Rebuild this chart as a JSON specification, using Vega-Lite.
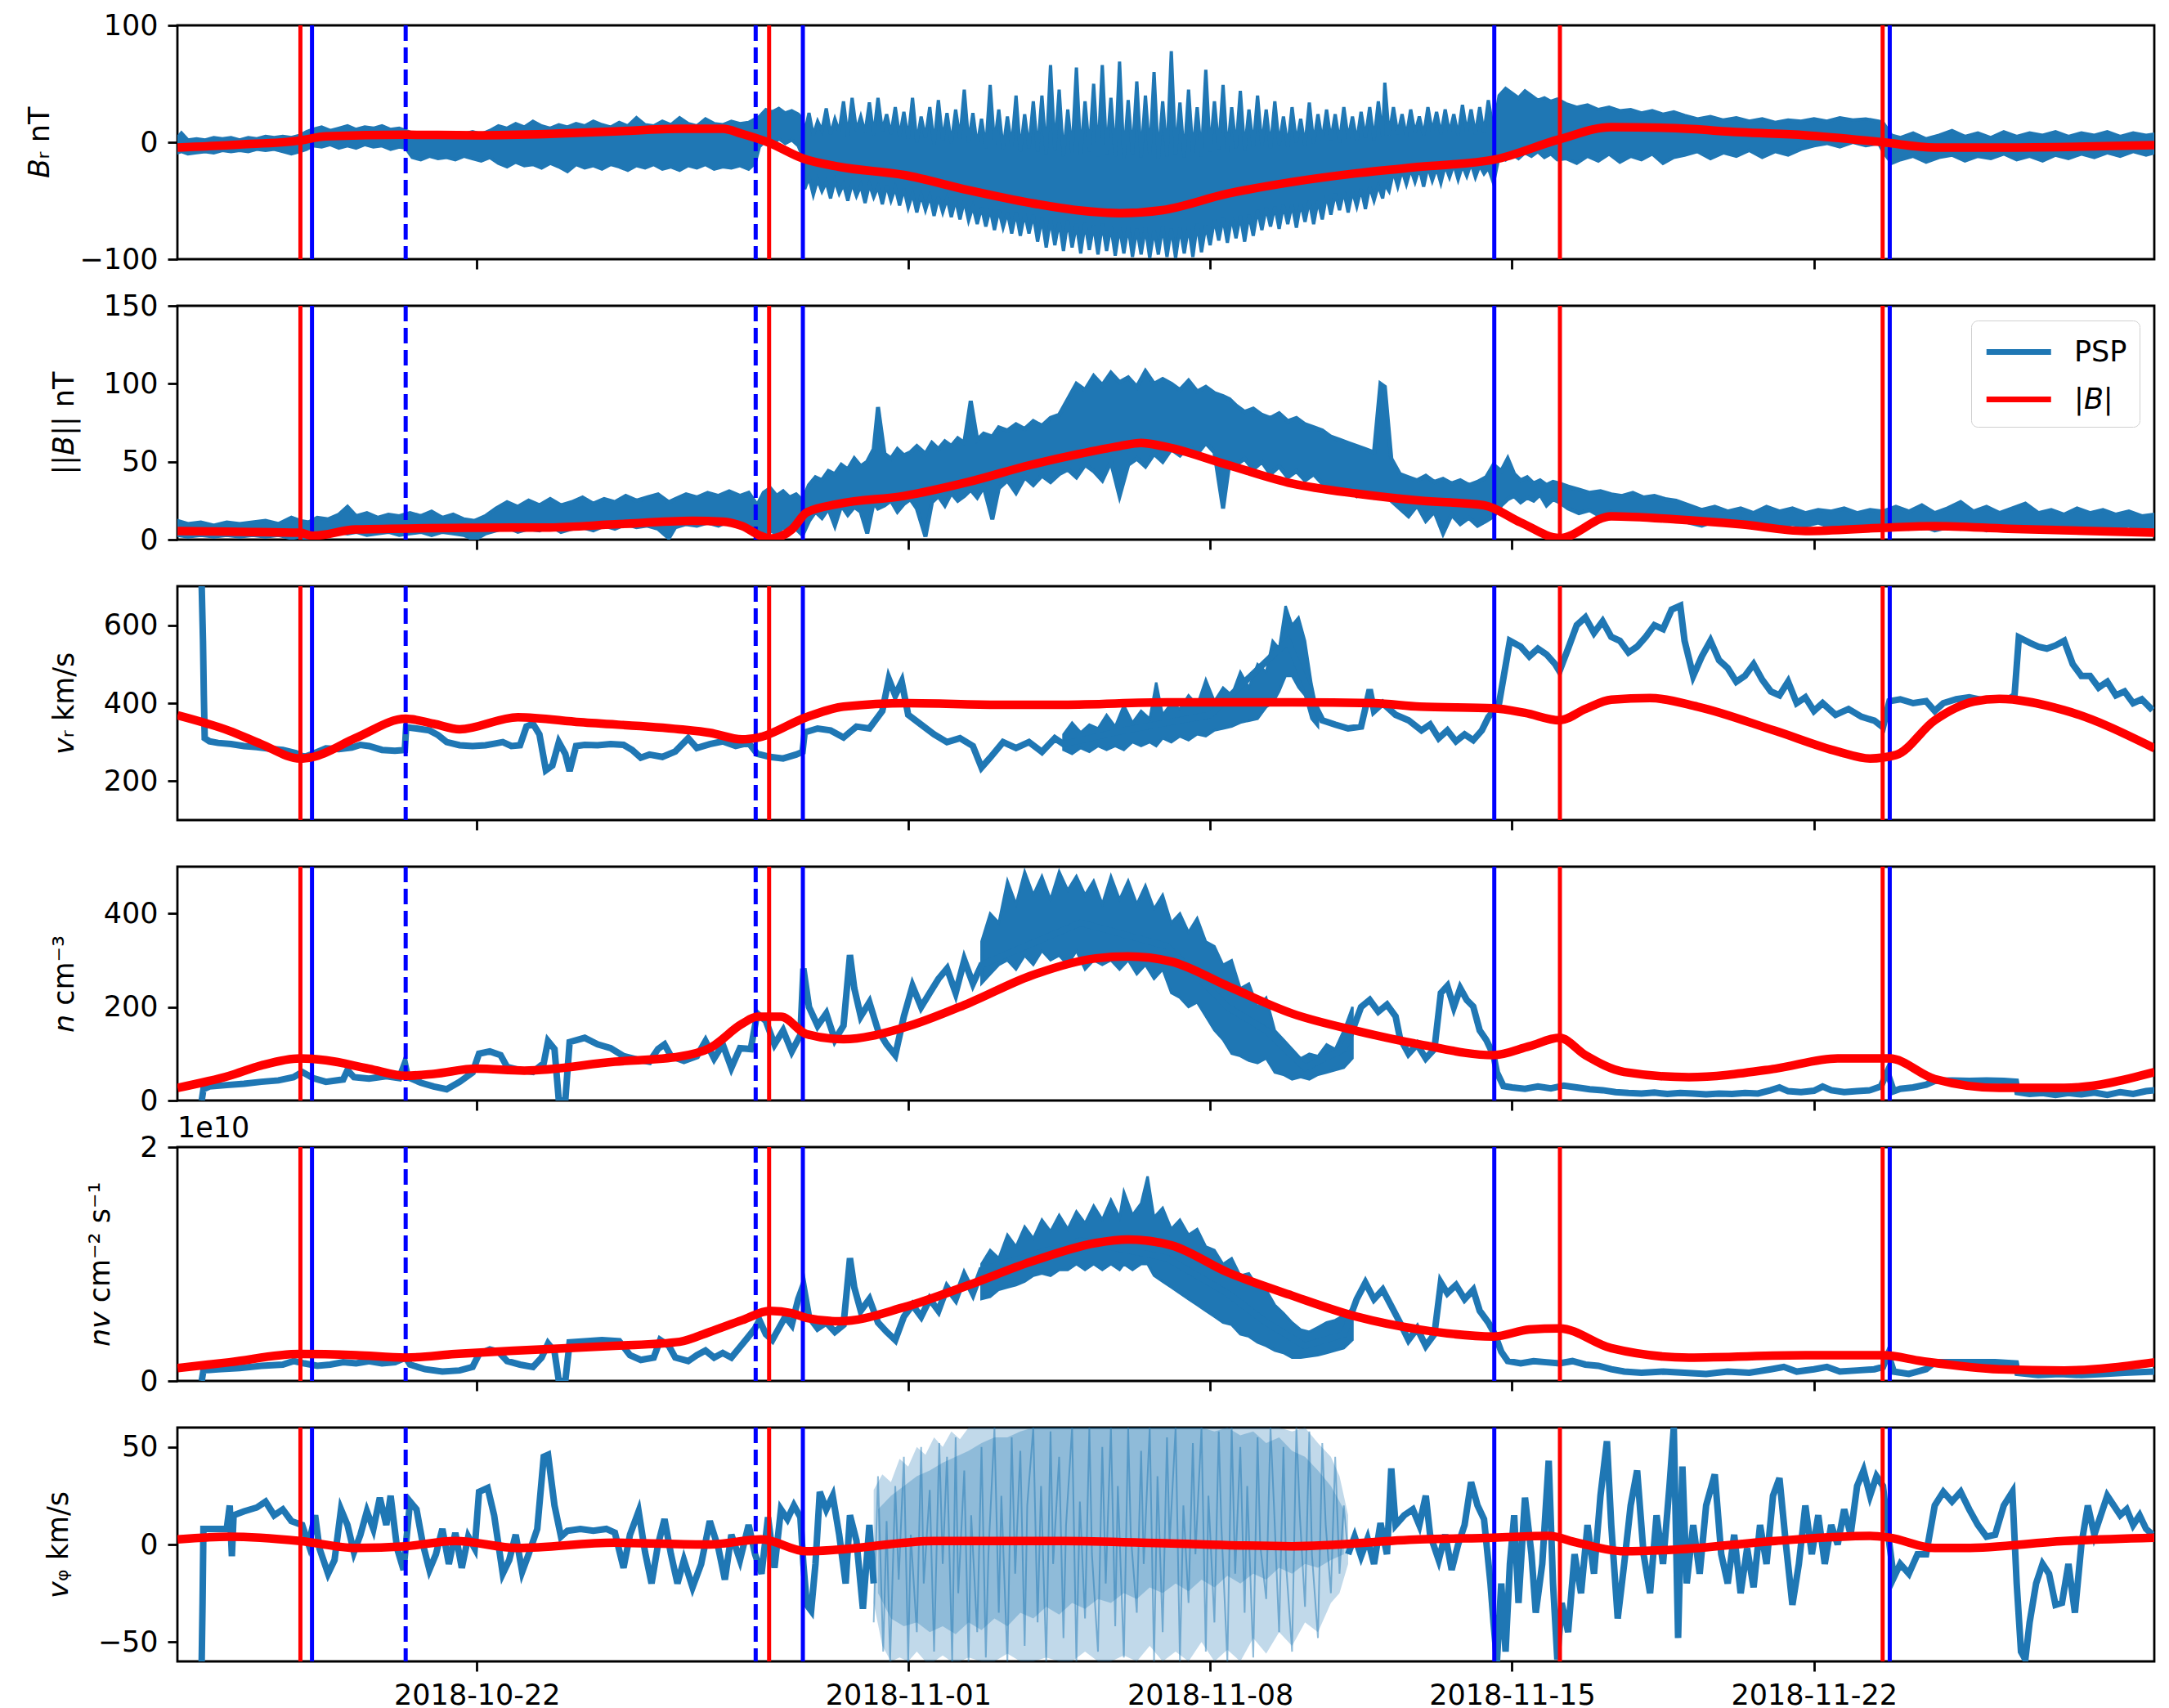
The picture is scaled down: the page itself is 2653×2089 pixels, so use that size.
{
  "$schema": "https://vega.github.io/schema/vega-lite/v6.json",
  "background": "white",
  "padding": {"left": 30, "top": 12, "right": 20, "bottom": 0},
  "bounds": "flush",
  "spacing": 57,
  "resolve": {"scale": {"stroke": "independent"}, "legend": {"stroke": "independent"}},
  "config": {
    "font": "DejaVu Sans",
    "view": {"stroke": "#000000", "strokeWidth": 2.8},
    "axis": {
      "labelFont": "DejaVu Sans", "labelFontSize": 35, "labelColor": "#000000", "labelLimit": 500,
      "titleFont": "DejaVu Sans", "titleFontSize": 35, "titleFontWeight": "normal", "titleColor": "#000000",
      "tickColor": "#000000", "tickWidth": 2.8, "tickSize": 12, "labelPadding": 12, "titlePadding": 30,
      "domain": false, "grid": false
    },
    "legend": {"labelFont": "DejaVu Sans", "labelFontSize": 35, "labelColor": "#000000"},
    "title": {"font": "DejaVu Sans", "fontSize": 35, "fontWeight": "normal", "color": "#000000"}
  },
  "datasets": {
    "red_times": [{"d": 2.909}, {"d": 13.775}, {"d": 32.11}, {"d": 39.592}],
    "blue_times": [{"d": 3.177}, {"d": 14.558}, {"d": 30.588}, {"d": 39.757}],
    "blue_dashed_times": [{"d": 5.349}, {"d": 13.464}],
    "br_psp": [
      {"d":0.06,"lo":-9,"hi":4},{"d":0.15,"lo":-8,"hi":8},{"d":0.3,"lo":-10,"hi":2},{"d":0.5,"lo":-9,"hi":3},{"d":0.7,"lo":-8,"hi":2},{"d":0.9,"lo":-9,"hi":4},{"d":1.1,"lo":-7,"hi":3},{"d":1.3,"lo":-8,"hi":4},{"d":1.5,"lo":-7,"hi":2},{"d":1.7,"lo":-8,"hi":4},{"d":1.9,"lo":-6,"hi":3},{"d":2.1,"lo":-7,"hi":5},{"d":2.3,"lo":-6,"hi":4},{"d":2.5,"lo":-8,"hi":5},{"d":2.7,"lo":-10,"hi":4},{"d":2.9,"lo":-8,"hi":6},
      {"d":3.05,"lo":-6,"hi":9},{"d":3.2,"lo":-3,"hi":11},{"d":3.4,"lo":-4,"hi":13},{"d":3.6,"lo":-2,"hi":10},{"d":3.8,"lo":-5,"hi":12},{"d":4.0,"lo":-3,"hi":14},{"d":4.2,"lo":-5,"hi":11},{"d":4.4,"lo":-2,"hi":13},{"d":4.6,"lo":-4,"hi":12},{"d":4.8,"lo":-3,"hi":14},{"d":5.0,"lo":-6,"hi":11},{"d":5.2,"lo":-4,"hi":12},{"d":5.35,"lo":-5,"hi":10},
      {"d":5.5,"lo":-13,"hi":8},{"d":5.7,"lo":-15,"hi":6},{"d":5.9,"lo":-12,"hi":7},{"d":6.1,"lo":-14,"hi":5},{"d":6.3,"lo":-13,"hi":8},{"d":6.5,"lo":-15,"hi":6},{"d":6.7,"lo":-12,"hi":7},{"d":6.9,"lo":-14,"hi":9},{"d":7.1,"lo":-16,"hi":7},{"d":7.3,"lo":-13,"hi":10},
      {"d":7.5,"lo":-18,"hi":14},{"d":7.7,"lo":-21,"hi":12},{"d":7.9,"lo":-17,"hi":16},{"d":8.1,"lo":-20,"hi":13},{"d":8.3,"lo":-19,"hi":18},{"d":8.5,"lo":-22,"hi":14},{"d":8.7,"lo":-18,"hi":12},{"d":8.9,"lo":-21,"hi":15},{"d":9.1,"lo":-25,"hi":13},{"d":9.3,"lo":-19,"hi":16},{"d":9.5,"lo":-22,"hi":14},{"d":9.7,"lo":-20,"hi":18},{"d":9.9,"lo":-23,"hi":15},{"d":10.1,"lo":-19,"hi":13},{"d":10.3,"lo":-21,"hi":17},{"d":10.5,"lo":-24,"hi":14},{"d":10.7,"lo":-20,"hi":21},{"d":10.9,"lo":-22,"hi":15},{"d":11.1,"lo":-19,"hi":14},{"d":11.3,"lo":-23,"hi":18},{"d":11.5,"lo":-21,"hi":15},{"d":11.7,"lo":-24,"hi":21},{"d":11.9,"lo":-20,"hi":16},{"d":12.1,"lo":-22,"hi":14},{"d":12.3,"lo":-19,"hi":20},{"d":12.5,"lo":-23,"hi":16},{"d":12.7,"lo":-21,"hi":15},{"d":12.9,"lo":-22,"hi":18},{"d":13.1,"lo":-20,"hi":16},{"d":13.3,"lo":-23,"hi":17},{"d":13.45,"lo":-18,"hi":20},
      {"d":13.55,"lo":-4,"hi":22},{"d":13.7,"lo":2,"hi":28},{"d":13.85,"lo":-2,"hi":26},{"d":14.0,"lo":3,"hi":29},{"d":14.15,"lo":-1,"hi":25},{"d":14.3,"lo":2,"hi":27},{"d":14.45,"lo":-3,"hi":24},{"d":14.55,"lo":-12,"hi":20},
      {"d":14.6,"lo":-40,"hi":8},{"d":14.7,"lo":-30,"hi":25},{"d":14.8,"lo":-45,"hi":6},{"d":14.9,"lo":-32,"hi":18},{"d":15.0,"lo":-42,"hi":10},{"d":15.1,"lo":-34,"hi":29},{"d":15.2,"lo":-48,"hi":7},{"d":15.3,"lo":-33,"hi":20},{"d":15.4,"lo":-44,"hi":9},{"d":15.5,"lo":-36,"hi":35},{"d":15.6,"lo":-50,"hi":5},{"d":15.7,"lo":-35,"hi":38},{"d":15.8,"lo":-46,"hi":10},{"d":15.9,"lo":-37,"hi":22},{"d":16.0,"lo":-52,"hi":8},{"d":16.1,"lo":-36,"hi":34},{"d":16.2,"lo":-47,"hi":6},{"d":16.3,"lo":-38,"hi":38},{"d":16.4,"lo":-53,"hi":10},{"d":16.5,"lo":-37,"hi":24},{"d":16.6,"lo":-50,"hi":7},{"d":16.7,"lo":-39,"hi":30},{"d":16.8,"lo":-54,"hi":5},{"d":16.9,"lo":-40,"hi":26},
      {"d":17.0,"lo":-56,"hi":3},{"d":17.1,"lo":-44,"hi":38},{"d":17.2,"lo":-60,"hi":0},{"d":17.3,"lo":-45,"hi":22},{"d":17.4,"lo":-58,"hi":4},{"d":17.5,"lo":-46,"hi":30},{"d":17.6,"lo":-63,"hi":-2},{"d":17.7,"lo":-47,"hi":36},{"d":17.8,"lo":-60,"hi":2},{"d":17.9,"lo":-48,"hi":25},{"d":18.0,"lo":-64,"hi":-1},{"d":18.1,"lo":-49,"hi":28},{"d":18.2,"lo":-66,"hi":3},{"d":18.3,"lo":-50,"hi":45},{"d":18.4,"lo":-67,"hi":0},
      {"d":18.5,"lo":-55,"hi":25},{"d":18.6,"lo":-70,"hi":-3},{"d":18.7,"lo":-56,"hi":20},{"d":18.8,"lo":-72,"hi":-5},{"d":18.9,"lo":-57,"hi":49},{"d":19.0,"lo":-75,"hi":-2},{"d":19.1,"lo":-58,"hi":28},{"d":19.2,"lo":-73,"hi":-6},{"d":19.3,"lo":-60,"hi":22},{"d":19.4,"lo":-78,"hi":-4},{"d":19.5,"lo":-60,"hi":40},{"d":19.6,"lo":-80,"hi":-8},{"d":19.7,"lo":-61,"hi":24},{"d":19.8,"lo":-78,"hi":-5},{"d":19.9,"lo":-62,"hi":35},
      {"d":20.0,"lo":-85,"hi":-8},{"d":20.1,"lo":-65,"hi":40},{"d":20.2,"lo":-90,"hi":-10},{"d":20.3,"lo":-66,"hi":66},{"d":20.4,"lo":-88,"hi":-7},{"d":20.5,"lo":-68,"hi":45},{"d":20.6,"lo":-93,"hi":-12},{"d":20.7,"lo":-67,"hi":28},{"d":20.8,"lo":-90,"hi":-9},{"d":20.9,"lo":-70,"hi":64},{"d":21.0,"lo":-95,"hi":-11},{"d":21.1,"lo":-69,"hi":35},{"d":21.2,"lo":-92,"hi":-8},{"d":21.3,"lo":-71,"hi":50},{"d":21.4,"lo":-96,"hi":-12},{"d":21.5,"lo":-70,"hi":66},{"d":21.6,"lo":-93,"hi":-10},
      {"d":21.7,"lo":-72,"hi":38},{"d":21.8,"lo":-97,"hi":-12},{"d":21.9,"lo":-73,"hi":69},{"d":22.0,"lo":-95,"hi":-14},{"d":22.1,"lo":-72,"hi":36},{"d":22.2,"lo":-98,"hi":-10},{"d":22.3,"lo":-74,"hi":52},{"d":22.4,"lo":-96,"hi":-13},{"d":22.5,"lo":-73,"hi":40},{"d":22.6,"lo":-99,"hi":-11},{"d":22.7,"lo":-75,"hi":60},{"d":22.8,"lo":-96,"hi":-14},{"d":22.9,"lo":-72,"hi":35},{"d":23.0,"lo":-98,"hi":-12},{"d":23.1,"lo":-74,"hi":78},{"d":23.2,"lo":-99,"hi":-10},{"d":23.3,"lo":-73,"hi":34},{"d":23.4,"lo":-95,"hi":-13},{"d":23.5,"lo":-72,"hi":45},{"d":23.6,"lo":-98,"hi":-9},{"d":23.7,"lo":-70,"hi":30},{"d":23.8,"lo":-94,"hi":-12},{"d":23.9,"lo":-71,"hi":62},
      {"d":24.0,"lo":-88,"hi":-8},{"d":24.1,"lo":-66,"hi":35},{"d":24.2,"lo":-84,"hi":-6},{"d":24.3,"lo":-65,"hi":49},{"d":24.4,"lo":-86,"hi":-9},{"d":24.5,"lo":-64,"hi":30},{"d":24.6,"lo":-82,"hi":-5},{"d":24.7,"lo":-63,"hi":44},{"d":24.8,"lo":-85,"hi":-7},{"d":24.9,"lo":-62,"hi":28},{"d":25.0,"lo":-80,"hi":-4},
      {"d":25.1,"lo":-58,"hi":40},{"d":25.2,"lo":-75,"hi":-3},{"d":25.3,"lo":-56,"hi":28},{"d":25.4,"lo":-72,"hi":-5},{"d":25.5,"lo":-55,"hi":35},{"d":25.6,"lo":-74,"hi":-2},{"d":25.7,"lo":-54,"hi":22},{"d":25.8,"lo":-70,"hi":-4},{"d":25.9,"lo":-53,"hi":30},{"d":26.0,"lo":-73,"hi":0},{"d":26.1,"lo":-52,"hi":20},{"d":26.2,"lo":-68,"hi":-3},{"d":26.3,"lo":-50,"hi":34},{"d":26.4,"lo":-70,"hi":-1},{"d":26.5,"lo":-50,"hi":24},
      {"d":26.6,"lo":-66,"hi":1},{"d":26.7,"lo":-45,"hi":28},{"d":26.8,"lo":-62,"hi":2},{"d":26.9,"lo":-44,"hi":24},{"d":27.0,"lo":-58,"hi":0},{"d":27.1,"lo":-42,"hi":30},{"d":27.2,"lo":-60,"hi":3},{"d":27.3,"lo":-42,"hi":22},{"d":27.4,"lo":-55,"hi":1},{"d":27.5,"lo":-40,"hi":26},{"d":27.6,"lo":-57,"hi":4},{"d":27.7,"lo":-38,"hi":30},{"d":27.8,"lo":-50,"hi":2},{"d":27.9,"lo":-37,"hi":35},{"d":28.0,"lo":-48,"hi":5},{"d":28.05,"lo":-36,"hi":51},
      {"d":28.15,"lo":-42,"hi":6},{"d":28.25,"lo":-25,"hi":30},{"d":28.35,"lo":-38,"hi":7},{"d":28.45,"lo":-24,"hi":24},{"d":28.55,"lo":-36,"hi":5},{"d":28.65,"lo":-23,"hi":28},{"d":28.75,"lo":-34,"hi":8},{"d":28.85,"lo":-22,"hi":22},{"d":28.95,"lo":-38,"hi":6},{"d":29.05,"lo":-21,"hi":30},{"d":29.15,"lo":-33,"hi":9},{"d":29.25,"lo":-22,"hi":26},{"d":29.35,"lo":-35,"hi":7},{"d":29.45,"lo":-20,"hi":28},{"d":29.55,"lo":-30,"hi":8},{"d":29.65,"lo":-19,"hi":24},{"d":29.75,"lo":-32,"hi":6},{"d":29.85,"lo":-20,"hi":32},{"d":29.95,"lo":-29,"hi":9},{"d":30.05,"lo":-18,"hi":28},{"d":30.15,"lo":-30,"hi":7},{"d":30.25,"lo":-20,"hi":30},{"d":30.35,"lo":-27,"hi":8},{"d":30.45,"lo":-22,"hi":36},{"d":30.57,"lo":-35,"hi":10},
      {"d":30.7,"lo":-12,"hi":40},{"d":30.85,"lo":-15,"hi":46},{"d":31.0,"lo":-10,"hi":42},{"d":31.15,"lo":-14,"hi":38},{"d":31.3,"lo":-9,"hi":44},{"d":31.45,"lo":-12,"hi":40},{"d":31.6,"lo":-8,"hi":36},{"d":31.75,"lo":-13,"hi":38},{"d":31.9,"lo":-10,"hi":35},{"d":32.05,"lo":-15,"hi":37},
      {"d":32.25,"lo":-14,"hi":33},{"d":32.5,"lo":-18,"hi":30},{"d":32.75,"lo":-12,"hi":32},{"d":33.0,"lo":-16,"hi":28},{"d":33.25,"lo":-10,"hi":30},{"d":33.5,"lo":-17,"hi":27},{"d":33.75,"lo":-12,"hi":28},{"d":34.0,"lo":-15,"hi":25},{"d":34.25,"lo":-10,"hi":27},{"d":34.5,"lo":-18,"hi":24},{"d":34.75,"lo":-13,"hi":26},
      {"d":35.0,"lo":-11,"hi":23},{"d":35.3,"lo":-8,"hi":20},{"d":35.6,"lo":-14,"hi":22},{"d":35.9,"lo":-9,"hi":19},{"d":36.2,"lo":-12,"hi":21},{"d":36.5,"lo":-7,"hi":18},{"d":36.8,"lo":-13,"hi":20},{"d":37.1,"lo":-8,"hi":17},{"d":37.4,"lo":-11,"hi":19},{"d":37.7,"lo":-6,"hi":18},
      {"d":38.0,"lo":-3,"hi":20},{"d":38.3,"lo":-1,"hi":18},{"d":38.6,"lo":-4,"hi":21},{"d":38.9,"lo":0,"hi":19},{"d":39.2,"lo":-3,"hi":20},{"d":39.5,"lo":-1,"hi":18},{"d":39.6,"lo":-8,"hi":17},
      {"d":39.8,"lo":-18,"hi":6},{"d":40.0,"lo":-15,"hi":4},{"d":40.3,"lo":-12,"hi":8},{"d":40.6,"lo":-17,"hi":3},{"d":40.9,"lo":-13,"hi":6},{"d":41.2,"lo":-11,"hi":10},{"d":41.5,"lo":-16,"hi":5},{"d":41.8,"lo":-12,"hi":8},{"d":42.1,"lo":-14,"hi":4},{"d":42.4,"lo":-10,"hi":9},{"d":42.7,"lo":-15,"hi":5},{"d":43.0,"lo":-12,"hi":8},{"d":43.3,"lo":-16,"hi":6},{"d":43.6,"lo":-11,"hi":9},{"d":43.9,"lo":-14,"hi":5},{"d":44.2,"lo":-10,"hi":8},{"d":44.5,"lo":-13,"hi":6},{"d":44.8,"lo":-9,"hi":9},{"d":45.1,"lo":-12,"hi":5},{"d":45.4,"lo":-8,"hi":8},{"d":45.7,"lo":-11,"hi":6},{"d":45.9,"lo":-9,"hi":7}
    ],
    "br_fit": [
      {"d":0.06,"v":-4.5},{"d":1.5,"v":-2},{"d":2.9,"v":1.5},{"d":3.5,"v":5},{"d":5.35,"v":6.4},{"d":7,"v":6},{"d":8.7,"v":7.2},{"d":10.2,"v":9.3},{"d":11.7,"v":11.5},{"d":12.7,"v":11.5},{"d":13.15,"v":7.2},{"d":13.75,"v":0},{"d":14.57,"v":-14},{"d":15.4,"v":-21},{"d":16.9,"v":-28},{"d":18.4,"v":-41},{"d":19.85,"v":-52},{"d":20.9,"v":-58},{"d":21.9,"v":-60.6},{"d":22.9,"v":-58},{"d":24.4,"v":-44},{"d":25.9,"v":-34},{"d":27.4,"v":-26.5},{"d":28.86,"v":-21},{"d":30.57,"v":-15},{"d":32.1,"v":2.5},{"d":33.3,"v":13},{"d":34.8,"v":12},{"d":36.3,"v":8.5},{"d":37.8,"v":6},{"d":39.6,"v":0},{"d":40.8,"v":-4.5},{"d":42.3,"v":-4.5},{"d":45.9,"v":-2.5}
    ],
    "bmag_psp": [
      {"d":0.06,"lo":3,"hi":12},{"d":0.3,"lo":2,"hi":10},{"d":0.6,"lo":3,"hi":11},{"d":0.9,"lo":2,"hi":9},{"d":1.2,"lo":3,"hi":11},{"d":1.5,"lo":2,"hi":10},{"d":1.8,"lo":3,"hi":11},{"d":2.1,"lo":2,"hi":12},{"d":2.4,"lo":3,"hi":10},{"d":2.7,"lo":1,"hi":14},{"d":2.9,"lo":2,"hi":12},
      {"d":3.1,"lo":0,"hi":11},{"d":3.3,"lo":3,"hi":14},{"d":3.55,"lo":4,"hi":13},{"d":3.8,"lo":5,"hi":16},{"d":4.0,"lo":4,"hi":21},{"d":4.2,"lo":5,"hi":15},{"d":4.45,"lo":3,"hi":17},{"d":4.7,"lo":4,"hi":14},{"d":4.95,"lo":5,"hi":16},{"d":5.2,"lo":3,"hi":15},
      {"d":5.45,"lo":4,"hi":17},{"d":5.7,"lo":5,"hi":15},{"d":5.95,"lo":3,"hi":18},{"d":6.2,"lo":5,"hi":14},{"d":6.45,"lo":4,"hi":16},{"d":6.7,"lo":3,"hi":13},{"d":6.95,"lo":0,"hi":12},{"d":7.2,"lo":4,"hi":15},
      {"d":7.45,"lo":6,"hi":20},{"d":7.7,"lo":8,"hi":24},{"d":7.95,"lo":5,"hi":21},{"d":8.2,"lo":7,"hi":25},{"d":8.45,"lo":6,"hi":22},{"d":8.7,"lo":9,"hi":26},{"d":8.95,"lo":5,"hi":22},{"d":9.2,"lo":7,"hi":24},{"d":9.45,"lo":8,"hi":27},{"d":9.7,"lo":6,"hi":23},{"d":9.95,"lo":9,"hi":26},{"d":10.2,"lo":7,"hi":24},{"d":10.45,"lo":10,"hi":28},{"d":10.7,"lo":8,"hi":25},{"d":10.95,"lo":9,"hi":27},{"d":11.2,"lo":7,"hi":29},{"d":11.45,"lo":1,"hi":24},{"d":11.6,"lo":8,"hi":26},{"d":11.85,"lo":10,"hi":29},{"d":12.1,"lo":9,"hi":27},{"d":12.35,"lo":11,"hi":30},{"d":12.6,"lo":9,"hi":28},{"d":12.85,"lo":12,"hi":31},{"d":13.1,"lo":10,"hi":28},{"d":13.3,"lo":11,"hi":30},
      {"d":13.5,"lo":2,"hi":22},{"d":13.65,"lo":3,"hi":30},{"d":13.8,"lo":6,"hi":33},{"d":13.95,"lo":4,"hi":28},{"d":14.1,"lo":8,"hi":31},{"d":14.25,"lo":5,"hi":27},{"d":14.4,"lo":7,"hi":29},{"d":14.55,"lo":3,"hi":25},
      {"d":14.7,"lo":12,"hi":35},{"d":14.85,"lo":18,"hi":40},{"d":15.0,"lo":14,"hi":38},{"d":15.15,"lo":20,"hi":44},{"d":15.3,"lo":9,"hi":42},{"d":15.45,"lo":22,"hi":48},{"d":15.6,"lo":16,"hi":45},{"d":15.75,"lo":21,"hi":52},{"d":15.9,"lo":18,"hi":47},{"d":16.05,"lo":4,"hi":50},{"d":16.2,"lo":24,"hi":58},{"d":16.3,"lo":20,"hi":85},{"d":16.45,"lo":22,"hi":55},{"d":16.6,"lo":25,"hi":52},{"d":16.75,"lo":18,"hi":58},{"d":16.9,"lo":23,"hi":54},
      {"d":17.05,"lo":26,"hi":56},{"d":17.2,"lo":20,"hi":60},{"d":17.4,"lo":2,"hi":55},{"d":17.55,"lo":24,"hi":62},{"d":17.7,"lo":28,"hi":58},{"d":17.85,"lo":22,"hi":63},{"d":18.0,"lo":30,"hi":60},{"d":18.15,"lo":25,"hi":65},{"d":18.3,"lo":28,"hi":62},{"d":18.45,"lo":32,"hi":89},{"d":18.6,"lo":27,"hi":64},
      {"d":18.75,"lo":34,"hi":68},{"d":18.95,"lo":13,"hi":66},{"d":19.1,"lo":33,"hi":72},{"d":19.3,"lo":38,"hi":70},{"d":19.5,"lo":30,"hi":74},{"d":19.7,"lo":40,"hi":71},{"d":19.9,"lo":35,"hi":76},{"d":20.1,"lo":41,"hi":73},{"d":20.3,"lo":37,"hi":78},{"d":20.5,"lo":42,"hi":80},
      {"d":20.7,"lo":45,"hi":90},{"d":20.9,"lo":40,"hi":100},{"d":21.1,"lo":48,"hi":96},{"d":21.3,"lo":44,"hi":105},{"d":21.5,"lo":38,"hi":99},{"d":21.7,"lo":50,"hi":107},{"d":21.9,"lo":28,"hi":101},{"d":22.1,"lo":48,"hi":104},{"d":22.3,"lo":52,"hi":98},{"d":22.5,"lo":47,"hi":108},{"d":22.7,"lo":55,"hi":100},{"d":22.9,"lo":50,"hi":103},
      {"d":23.1,"lo":58,"hi":100},{"d":23.3,"lo":54,"hi":96},{"d":23.5,"lo":60,"hi":102},{"d":23.7,"lo":55,"hi":95},{"d":23.9,"lo":62,"hi":98},{"d":24.1,"lo":56,"hi":94},{"d":24.3,"lo":20,"hi":92},{"d":24.45,"lo":50,"hi":90},
      {"d":24.6,"lo":48,"hi":86},{"d":24.8,"lo":52,"hi":82},{"d":25.0,"lo":45,"hi":84},{"d":25.2,"lo":50,"hi":80},{"d":25.4,"lo":42,"hi":78},{"d":25.6,"lo":47,"hi":81},{"d":25.8,"lo":40,"hi":76},{"d":26.0,"lo":44,"hi":78},{"d":26.2,"lo":38,"hi":74},{"d":26.4,"lo":42,"hi":72},{"d":26.6,"lo":36,"hi":70},
      {"d":26.8,"lo":34,"hi":66},{"d":27.0,"lo":30,"hi":64},{"d":27.2,"lo":33,"hi":62},{"d":27.4,"lo":28,"hi":60},{"d":27.6,"lo":31,"hi":58},{"d":27.8,"lo":27,"hi":56},{"d":27.95,"lo":30,"hi":100},{"d":28.05,"lo":29,"hi":98},{"d":28.2,"lo":25,"hi":52},
      {"d":28.4,"lo":20,"hi":42},{"d":28.6,"lo":15,"hi":40},{"d":28.8,"lo":22,"hi":38},{"d":29.0,"lo":12,"hi":41},{"d":29.2,"lo":18,"hi":37},{"d":29.4,"lo":4,"hi":39},{"d":29.6,"lo":16,"hi":36},{"d":29.8,"lo":10,"hi":38},{"d":30.0,"lo":14,"hi":35},{"d":30.2,"lo":9,"hi":37},{"d":30.4,"lo":12,"hi":40},{"d":30.57,"lo":15,"hi":48},
      {"d":30.75,"lo":22,"hi":44},{"d":30.9,"lo":26,"hi":52},{"d":31.05,"lo":28,"hi":42},{"d":31.2,"lo":24,"hi":38},{"d":31.35,"lo":27,"hi":40},{"d":31.5,"lo":25,"hi":36},{"d":31.65,"lo":29,"hi":38},{"d":31.8,"lo":22,"hi":35},{"d":31.95,"lo":26,"hi":37},{"d":32.1,"lo":24,"hi":36},
      {"d":32.3,"lo":20,"hi":34},{"d":32.55,"lo":17,"hi":32},{"d":32.8,"lo":19,"hi":30},{"d":33.05,"lo":15,"hi":31},{"d":33.3,"lo":18,"hi":29},{"d":33.55,"lo":14,"hi":28},{"d":33.8,"lo":17,"hi":30},{"d":34.05,"lo":13,"hi":27},{"d":34.3,"lo":16,"hi":28},{"d":34.55,"lo":14,"hi":26},{"d":34.8,"lo":15,"hi":25},
      {"d":35.1,"lo":11,"hi":22},{"d":35.4,"lo":9,"hi":19},{"d":35.7,"lo":12,"hi":21},{"d":36.0,"lo":10,"hi":18},{"d":36.3,"lo":12,"hi":20},{"d":36.6,"lo":9,"hi":17},{"d":36.9,"lo":11,"hi":21},{"d":37.2,"lo":8,"hi":18},{"d":37.5,"lo":10,"hi":20},{"d":37.8,"lo":9,"hi":17},{"d":38.1,"lo":11,"hi":19},{"d":38.4,"lo":8,"hi":18},{"d":38.7,"lo":10,"hi":20},{"d":39.0,"lo":9,"hi":17},{"d":39.3,"lo":11,"hi":19},{"d":39.6,"lo":9,"hi":18},
      {"d":39.9,"lo":8,"hi":21},{"d":40.2,"lo":7,"hi":18},{"d":40.5,"lo":9,"hi":22},{"d":40.8,"lo":6,"hi":17},{"d":41.1,"lo":8,"hi":20},{"d":41.4,"lo":7,"hi":24},{"d":41.7,"lo":9,"hi":18},{"d":42.0,"lo":6,"hi":21},{"d":42.3,"lo":8,"hi":17},{"d":42.6,"lo":7,"hi":20},{"d":42.9,"lo":9,"hi":23},{"d":43.2,"lo":6,"hi":17},{"d":43.5,"lo":8,"hi":19},{"d":43.8,"lo":7,"hi":16},{"d":44.1,"lo":9,"hi":20},{"d":44.4,"lo":6,"hi":17},{"d":44.7,"lo":8,"hi":19},{"d":45.0,"lo":7,"hi":16},{"d":45.3,"lo":9,"hi":18},{"d":45.6,"lo":6,"hi":15},{"d":45.9,"lo":8,"hi":16}
    ],
    "bmag_fit": [
      {"d":0.06,"v":5.5},{"d":1.5,"v":5},{"d":2.9,"v":4.4},{"d":3.2,"v":2.5},{"d":4.2,"v":6.5},{"d":7,"v":7.6},{"d":8.7,"v":7.8},{"d":10.2,"v":9.8},{"d":12,"v":12},{"d":12.7,"v":11.6},{"d":13.15,"v":8.7},{"d":13.6,"v":2.2},{"d":13.8,"v":0.7},{"d":14.3,"v":6.5},{"d":14.65,"v":17.5},{"d":15.4,"v":23},{"d":16.9,"v":28},{"d":18.4,"v":37},{"d":19.85,"v":48},{"d":20.9,"v":54.6},{"d":21.9,"v":60},{"d":22.4,"v":62},{"d":22.9,"v":60},{"d":24.4,"v":48},{"d":25.9,"v":36},{"d":27.4,"v":29.5},{"d":28.86,"v":25},{"d":30.35,"v":22},{"d":31.2,"v":11},{"d":32.1,"v":1},{"d":33.3,"v":15},{"d":34.8,"v":13},{"d":36.3,"v":9.8},{"d":37.8,"v":5.5},{"d":39.6,"v":7.6},{"d":40.8,"v":8.7},{"d":42.5,"v":7},{"d":45.9,"v":4.4}
    ],
    "vr_psp": [
      {"d":0.62,"v":700},{"d":0.65,"v":560},{"d":0.67,"v":420},{"d":0.69,"v":310},{"d":0.8,"v":302},{"d":1.0,"v":298},{"d":1.3,"v":295},{"d":1.6,"v":290},{"d":1.9,"v":287},{"d":2.2,"v":283},{"d":2.5,"v":280},{"d":2.8,"v":272},{"d":3.0,"v":262},{"d":3.2,"v":270},{"d":3.5,"v":284},{"d":3.8,"v":282},{"d":4.1,"v":286},{"d":4.3,"v":293},{"d":4.5,"v":290},{"d":4.8,"v":280},{"d":5.1,"v":278},{"d":5.33,"v":280},{"d":5.36,"v":338},{"d":5.6,"v":335},{"d":5.9,"v":330},{"d":6.1,"v":318},{"d":6.3,"v":300},{"d":6.6,"v":292},{"d":6.9,"v":290},{"d":7.2,"v":292},{"d":7.4,"v":296},{"d":7.6,"v":300},{"d":7.8,"v":290},{"d":8.0,"v":292},{"d":8.15,"v":340},{"d":8.3,"v":347},{"d":8.45,"v":320},{"d":8.6,"v":228},{"d":8.75,"v":240},{"d":8.9,"v":300},{"d":9.05,"v":270},{"d":9.15,"v":226},{"d":9.3,"v":290},{"d":9.5,"v":293},{"d":9.8,"v":292},{"d":10.1,"v":295},{"d":10.4,"v":293},{"d":10.6,"v":280},{"d":10.8,"v":260},{"d":11.0,"v":268},{"d":11.3,"v":262},{"d":11.6,"v":276},{"d":11.9,"v":310},{"d":12.1,"v":285},{"d":12.4,"v":295},{"d":12.7,"v":302},{"d":13.0,"v":290},{"d":13.3,"v":298},{"d":13.5,"v":270},{"d":13.8,"v":262},{"d":14.1,"v":258},{"d":14.4,"v":268},{"d":14.55,"v":275},{"d":14.6,"v":325},{"d":14.9,"v":335},{"d":15.2,"v":330},{"d":15.5,"v":312},{"d":15.8,"v":340},{"d":16.1,"v":335},{"d":16.4,"v":380},{"d":16.55,"v":462},{"d":16.7,"v":420},{"d":16.85,"v":455},{"d":17.0,"v":370},{"d":17.3,"v":345},{"d":17.6,"v":320},{"d":17.9,"v":300},{"d":18.2,"v":310},{"d":18.5,"v":290},{"d":18.7,"v":235},{"d":18.9,"v":260},{"d":19.2,"v":300},{"d":19.5,"v":285},{"d":19.8,"v":300},{"d":20.1,"v":275},{"d":20.4,"v":310},{"d":20.6,"v":295},
      {"d":22,"v":330},{"d":24,"v":370},{"d":25.8,"v":560},{"d":26.4,"v":400},
      {"d":26.6,"v":356},{"d":26.9,"v":345},{"d":27.2,"v":335},{"d":27.5,"v":340},{"d":27.7,"v":435},{"d":27.8,"v":380},{"d":28.0,"v":400},{"d":28.3,"v":370},{"d":28.6,"v":356},{"d":28.9,"v":330},{"d":29.1,"v":345},{"d":29.3,"v":310},{"d":29.5,"v":330},{"d":29.7,"v":302},{"d":29.9,"v":320},{"d":30.1,"v":305},{"d":30.3,"v":330},{"d":30.45,"v":364},{"d":30.57,"v":380},{"d":30.7,"v":400},{"d":30.95,"v":560},{"d":31.2,"v":545},{"d":31.4,"v":520},{"d":31.6,"v":540},{"d":31.8,"v":525},{"d":32.0,"v":500},{"d":32.1,"v":482},{"d":32.3,"v":540},{"d":32.5,"v":600},{"d":32.7,"v":620},{"d":32.9,"v":580},{"d":33.1,"v":610},{"d":33.3,"v":570},{"d":33.5,"v":560},{"d":33.7,"v":530},{"d":33.9,"v":545},{"d":34.1,"v":570},{"d":34.3,"v":600},{"d":34.5,"v":590},{"d":34.7,"v":640},{"d":34.9,"v":650},{"d":35.0,"v":560},{"d":35.2,"v":470},{"d":35.4,"v":520},{"d":35.6,"v":560},{"d":35.8,"v":510},{"d":36.0,"v":490},{"d":36.2,"v":455},{"d":36.4,"v":470},{"d":36.6,"v":500},{"d":36.8,"v":460},{"d":37.0,"v":430},{"d":37.2,"v":420},{"d":37.4,"v":455},{"d":37.6,"v":400},{"d":37.8,"v":415},{"d":38.0,"v":380},{"d":38.2,"v":400},{"d":38.5,"v":370},{"d":38.8,"v":385},{"d":39.1,"v":365},{"d":39.4,"v":355},{"d":39.6,"v":338},{"d":39.75,"v":405},{"d":40.0,"v":410},{"d":40.3,"v":400},{"d":40.6,"v":405},{"d":40.8,"v":380},{"d":41.0,"v":400},{"d":41.3,"v":410},{"d":41.6,"v":415},{"d":41.9,"v":408},{"d":42.2,"v":412},{"d":42.5,"v":410},{"d":42.65,"v":420},{"d":42.75,"v":569},{"d":43.0,"v":555},{"d":43.2,"v":545},{"d":43.4,"v":540},{"d":43.6,"v":548},{"d":43.8,"v":560},{"d":44.0,"v":500},{"d":44.2,"v":470},{"d":44.4,"v":470},{"d":44.6,"v":440},{"d":44.8,"v":455},{"d":45.0,"v":420},{"d":45.2,"v":430},{"d":45.4,"v":400},{"d":45.6,"v":410},{"d":45.85,"v":382}
    ],
    "vr_psp_band": [
      {"d":20.6,"lo":280,"hi":320},{"d":20.8,"lo":270,"hi":350},{"d":21.0,"lo":285,"hi":325},{"d":21.2,"lo":275,"hi":345},{"d":21.4,"lo":290,"hi":335},{"d":21.6,"lo":280,"hi":370},{"d":21.8,"lo":290,"hi":340},{"d":22.0,"lo":280,"hi":395},{"d":22.2,"lo":300,"hi":350},{"d":22.4,"lo":290,"hi":380},{"d":22.6,"lo":300,"hi":360},{"d":22.75,"lo":290,"hi":453},{"d":22.9,"lo":310,"hi":370},{"d":23.1,"lo":300,"hi":400},{"d":23.3,"lo":315,"hi":385},{"d":23.5,"lo":305,"hi":420},{"d":23.7,"lo":320,"hi":395},{"d":23.9,"lo":315,"hi":460},{"d":24.1,"lo":330,"hi":405},{"d":24.3,"lo":335,"hi":440},{"d":24.5,"lo":340,"hi":420},{"d":24.7,"lo":350,"hi":480},{"d":24.9,"lo":355,"hi":440},{"d":25.1,"lo":360,"hi":500},{"d":25.3,"lo":390,"hi":480},{"d":25.45,"lo":400,"hi":560},{"d":25.6,"lo":430,"hi":540},{"d":25.75,"lo":470,"hi":649},{"d":25.9,"lo":470,"hi":600},{"d":26.05,"lo":440,"hi":620},{"d":26.2,"lo":420,"hi":560},{"d":26.35,"lo":360,"hi":450},{"d":26.5,"lo":340,"hi":370}
    ],
    "vr_fit": [
      {"d":0.06,"v":369},{"d":1.26,"v":329},{"d":2.0,"v":295},{"d":2.9,"v":258},{"d":3.2,"v":262},{"d":4.2,"v":311},{"d":5.35,"v":360},{"d":6.0,"v":347},{"d":6.6,"v":333},{"d":7.95,"v":364},{"d":9.4,"v":351},{"d":11.7,"v":333},{"d":12.4,"v":324},{"d":13.15,"v":307},{"d":13.5,"v":311},{"d":14.64,"v":364},{"d":15.5,"v":391},{"d":17,"v":400},{"d":19.1,"v":396},{"d":20.6,"v":396},{"d":23,"v":402},{"d":25.9,"v":402},{"d":27.8,"v":400},{"d":28.86,"v":391},{"d":30.57,"v":387},{"d":31.3,"v":375},{"d":32.1,"v":356},{"d":32.7,"v":385},{"d":33.3,"v":409},{"d":34.2,"v":413},{"d":35.3,"v":391},{"d":37.1,"v":329},{"d":38.55,"v":276},{"d":39.3,"v":258},{"d":39.9,"v":267},{"d":40.8,"v":356},{"d":41.7,"v":404},{"d":42.3,"v":411},{"d":43.8,"v":382},{"d":45.9,"v":284}
    ],
    "n_psp": [
      {"d":0.62,"v":0},{"d":0.66,"v":24},{"d":0.8,"v":30},{"d":1.2,"v":33},{"d":1.6,"v":36},{"d":2.0,"v":40},{"d":2.4,"v":43},{"d":2.75,"v":50},{"d":2.95,"v":61},{"d":3.2,"v":48},{"d":3.5,"v":40},{"d":3.9,"v":45},{"d":4.0,"v":65},{"d":4.15,"v":50},{"d":4.5,"v":47},{"d":4.9,"v":52},{"d":5.2,"v":48},{"d":5.33,"v":80},{"d":5.4,"v":50},{"d":5.7,"v":38},{"d":6.0,"v":30},{"d":6.3,"v":24},{"d":6.6,"v":40},{"d":6.9,"v":60},{"d":7.05,"v":100},{"d":7.3,"v":105},{"d":7.55,"v":97},{"d":7.7,"v":72},{"d":8.0,"v":65},{"d":8.3,"v":61},{"d":8.55,"v":80},{"d":8.65,"v":127},{"d":8.8,"v":110},{"d":8.9,"v":0},{"d":9.05,"v":0},{"d":9.15,"v":125},{"d":9.5,"v":134},{"d":9.8,"v":120},{"d":10.1,"v":112},{"d":10.4,"v":95},{"d":10.7,"v":88},{"d":11.0,"v":83},{"d":11.2,"v":110},{"d":11.35,"v":120},{"d":11.5,"v":95},{"d":11.8,"v":85},{"d":12.1,"v":95},{"d":12.3,"v":127},{"d":12.5,"v":90},{"d":12.7,"v":120},{"d":12.9,"v":70},{"d":13.1,"v":112},{"d":13.35,"v":110},{"d":13.5,"v":186},{"d":13.7,"v":170},{"d":13.9,"v":120},{"d":14.1,"v":150},{"d":14.3,"v":105},{"d":14.5,"v":140},{"d":14.57,"v":282},{"d":14.7,"v":200},{"d":14.9,"v":160},{"d":15.1,"v":186},{"d":15.3,"v":130},{"d":15.5,"v":160},{"d":15.65,"v":311},{"d":15.75,"v":240},{"d":15.9,"v":180},{"d":16.1,"v":210},{"d":16.3,"v":150},{"d":16.5,"v":120},{"d":16.7,"v":97},{"d":16.9,"v":180},{"d":17.1,"v":245},{"d":17.3,"v":200},{"d":17.5,"v":230},{"d":17.7,"v":260},{"d":17.9,"v":282},{"d":18.1,"v":230},{"d":18.3,"v":300},{"d":18.5,"v":250},{"d":18.7,"v":290},
      {"d":21,"v":380},{"d":23,"v":330},{"d":24.4,"v":200},{"d":25.3,"v":150},{"d":26.2,"v":70},{"d":27.1,"v":110},
      {"d":27.3,"v":150},{"d":27.5,"v":200},{"d":27.7,"v":215},{"d":27.9,"v":190},{"d":28.1,"v":205},{"d":28.3,"v":180},{"d":28.4,"v":134},{"d":28.6,"v":100},{"d":28.8,"v":120},{"d":29.0,"v":90},{"d":29.2,"v":110},{"d":29.35,"v":230},{"d":29.5,"v":245},{"d":29.65,"v":200},{"d":29.8,"v":240},{"d":29.95,"v":215},{"d":30.1,"v":201},{"d":30.25,"v":150},{"d":30.4,"v":130},{"d":30.57,"v":97},{"d":30.65,"v":60},{"d":30.8,"v":31},{"d":31.0,"v":28},{"d":31.3,"v":25},{"d":31.6,"v":30},{"d":31.9,"v":26},{"d":32.2,"v":32},{"d":32.5,"v":28},{"d":32.8,"v":24},{"d":33.1,"v":22},{"d":33.4,"v":18},{"d":33.7,"v":16},{"d":34.0,"v":15},{"d":34.3,"v":17},{"d":34.6,"v":14},{"d":34.9,"v":16},{"d":35.2,"v":15},{"d":35.5,"v":13},{"d":35.8,"v":15},{"d":36.1,"v":14},{"d":36.4,"v":16},{"d":36.7,"v":15},{"d":37.0,"v":22},{"d":37.2,"v":28},{"d":37.4,"v":20},{"d":37.7,"v":18},{"d":38.0,"v":21},{"d":38.2,"v":30},{"d":38.4,"v":22},{"d":38.7,"v":18},{"d":39.0,"v":20},{"d":39.3,"v":22},{"d":39.55,"v":30},{"d":39.7,"v":61},{"d":39.85,"v":20},{"d":40.0,"v":25},{"d":40.3,"v":28},{"d":40.6,"v":34},{"d":40.8,"v":42},{"d":41.2,"v":43},{"d":41.6,"v":42},{"d":42.0,"v":43},{"d":42.4,"v":42},{"d":42.68,"v":40},{"d":42.72,"v":18},{"d":43.0,"v":14},{"d":43.3,"v":16},{"d":43.6,"v":12},{"d":43.9,"v":16},{"d":44.2,"v":13},{"d":44.5,"v":17},{"d":44.8,"v":12},{"d":45.1,"v":18},{"d":45.4,"v":14},{"d":45.7,"v":20},{"d":45.9,"v":22}
    ],
    "n_psp_band": [
      {"d":18.7,"lo":250,"hi":340},{"d":18.9,"lo":270,"hi":400},{"d":19.1,"lo":290,"hi":380},{"d":19.3,"lo":300,"hi":470},{"d":19.5,"lo":280,"hi":420},{"d":19.7,"lo":310,"hi":490},{"d":19.9,"lo":290,"hi":440},{"d":20.1,"lo":320,"hi":480},{"d":20.3,"lo":300,"hi":430},{"d":20.5,"lo":310,"hi":490},{"d":20.7,"lo":290,"hi":450},{"d":20.9,"lo":320,"hi":480},{"d":21.1,"lo":280,"hi":440},{"d":21.3,"lo":300,"hi":470},{"d":21.5,"lo":290,"hi":420},{"d":21.7,"lo":300,"hi":480},{"d":21.9,"lo":280,"hi":430},{"d":22.1,"lo":300,"hi":470},{"d":22.3,"lo":270,"hi":420},{"d":22.5,"lo":290,"hi":460},{"d":22.7,"lo":260,"hi":410},{"d":22.9,"lo":280,"hi":440},{"d":23.1,"lo":230,"hi":380},{"d":23.3,"lo":220,"hi":400},{"d":23.5,"lo":200,"hi":360},{"d":23.7,"lo":210,"hi":390},{"d":23.9,"lo":180,"hi":340},{"d":24.1,"lo":150,"hi":330},{"d":24.3,"lo":130,"hi":290},{"d":24.5,"lo":100,"hi":300},{"d":24.7,"lo":95,"hi":240},{"d":24.9,"lo":85,"hi":250},{"d":25.1,"lo":80,"hi":200},{"d":25.3,"lo":90,"hi":220},{"d":25.5,"lo":60,"hi":150},{"d":25.7,"lo":55,"hi":130},{"d":25.9,"lo":45,"hi":110},{"d":26.1,"lo":50,"hi":90},{"d":26.3,"lo":45,"hi":100},{"d":26.5,"lo":55,"hi":95},{"d":26.7,"lo":60,"hi":120},{"d":26.9,"lo":65,"hi":110},{"d":27.1,"lo":70,"hi":150},{"d":27.3,"lo":90,"hi":200}
    ],
    "n_fit": [
      {"d":0.06,"v":27},{"d":1.26,"v":53},{"d":2.0,"v":75},{"d":2.9,"v":90},{"d":3.5,"v":86},{"d":4.5,"v":68},{"d":5.35,"v":53},{"d":6.0,"v":57},{"d":7.0,"v":68},{"d":8.1,"v":64},{"d":10.2,"v":83},{"d":11.7,"v":94},{"d":12.4,"v":112},{"d":13.15,"v":164},{"d":13.5,"v":179},{"d":14.05,"v":179},{"d":14.64,"v":142},{"d":15.5,"v":131},{"d":16.9,"v":156},{"d":18.4,"v":208},{"d":19.85,"v":267},{"d":21.35,"v":304},{"d":22.1,"v":308},{"d":23.1,"v":297},{"d":24.4,"v":245},{"d":25.9,"v":186},{"d":27.4,"v":149},{"d":28.86,"v":120},{"d":30.57,"v":97},{"d":31.4,"v":116},{"d":32.1,"v":134},{"d":32.7,"v":97},{"d":33.6,"v":61},{"d":35.1,"v":50},{"d":37.1,"v":68},{"d":38.55,"v":90},{"d":39.75,"v":90},{"d":40.8,"v":46},{"d":42.3,"v":27},{"d":43.8,"v":27},{"d":45.9,"v":61}
    ],
    "nv_psp": [
      {"d":0.62,"v":0},{"d":0.66,"v":0.09},{"d":1.0,"v":0.1},{"d":1.5,"v":0.11},{"d":2.0,"v":0.13},{"d":2.5,"v":0.14},{"d":2.75,"v":0.17},{"d":3.0,"v":0.15},{"d":3.3,"v":0.13},{"d":3.6,"v":0.14},{"d":3.9,"v":0.16},{"d":4.2,"v":0.15},{"d":4.5,"v":0.17},{"d":4.8,"v":0.15},{"d":5.1,"v":0.16},{"d":5.35,"v":0.2},{"d":5.45,"v":0.14},{"d":5.8,"v":0.1},{"d":6.2,"v":0.08},{"d":6.6,"v":0.09},{"d":6.9,"v":0.12},{"d":7.05,"v":0.23},{"d":7.3,"v":0.27},{"d":7.5,"v":0.25},{"d":7.7,"v":0.17},{"d":8.0,"v":0.14},{"d":8.3,"v":0.12},{"d":8.5,"v":0.2},{"d":8.65,"v":0.32},{"d":8.8,"v":0.25},{"d":8.9,"v":0},{"d":9.05,"v":0},{"d":9.15,"v":0.33},{"d":9.5,"v":0.34},{"d":9.9,"v":0.35},{"d":10.3,"v":0.34},{"d":10.55,"v":0.22},{"d":10.8,"v":0.18},{"d":11.1,"v":0.2},{"d":11.25,"v":0.35},{"d":11.45,"v":0.3},{"d":11.6,"v":0.2},{"d":11.9,"v":0.17},{"d":12.1,"v":0.22},{"d":12.3,"v":0.26},{"d":12.5,"v":0.2},{"d":12.7,"v":0.24},{"d":12.9,"v":0.2},{"d":13.1,"v":0.29},{"d":13.3,"v":0.38},{"d":13.45,"v":0.45},{"d":13.55,"v":0.52},{"d":13.7,"v":0.4},{"d":13.85,"v":0.35},{"d":14.0,"v":0.45},{"d":14.15,"v":0.55},{"d":14.3,"v":0.48},{"d":14.45,"v":0.7},{"d":14.57,"v":0.82},{"d":14.7,"v":0.55},{"d":14.9,"v":0.45},{"d":15.1,"v":0.5},{"d":15.3,"v":0.42},{"d":15.5,"v":0.48},{"d":15.65,"v":1.05},{"d":15.75,"v":0.8},{"d":15.9,"v":0.6},{"d":16.1,"v":0.7},{"d":16.3,"v":0.5},{"d":16.5,"v":0.42},{"d":16.7,"v":0.35},{"d":16.9,"v":0.55},{"d":17.1,"v":0.65},{"d":17.3,"v":0.55},{"d":17.5,"v":0.7},{"d":17.7,"v":0.6},{"d":17.9,"v":0.8},{"d":18.1,"v":0.7},{"d":18.3,"v":0.9},{"d":18.5,"v":0.75},{"d":18.7,"v":0.95},
      {"d":21,"v":1.2},{"d":23,"v":1.05},{"d":24.4,"v":0.75},{"d":25.3,"v":0.5},{"d":26.2,"v":0.3},{"d":27.1,"v":0.4},
      {"d":27.4,"v":0.7},{"d":27.6,"v":0.84},{"d":27.8,"v":0.7},{"d":28.0,"v":0.78},{"d":28.2,"v":0.64},{"d":28.4,"v":0.5},{"d":28.6,"v":0.35},{"d":28.8,"v":0.45},{"d":29.0,"v":0.3},{"d":29.2,"v":0.4},{"d":29.35,"v":0.84},{"d":29.5,"v":0.75},{"d":29.7,"v":0.82},{"d":29.9,"v":0.7},{"d":30.1,"v":0.78},{"d":30.25,"v":0.6},{"d":30.45,"v":0.5},{"d":30.6,"v":0.4},{"d":30.75,"v":0.25},{"d":30.9,"v":0.17},{"d":31.2,"v":0.15},{"d":31.5,"v":0.17},{"d":31.8,"v":0.16},{"d":32.1,"v":0.15},{"d":32.4,"v":0.17},{"d":32.7,"v":0.14},{"d":33.0,"v":0.13},{"d":33.3,"v":0.1},{"d":33.6,"v":0.08},{"d":34.0,"v":0.07},{"d":34.5,"v":0.08},{"d":35.0,"v":0.07},{"d":35.5,"v":0.06},{"d":36.0,"v":0.08},{"d":36.5,"v":0.07},{"d":37.0,"v":0.1},{"d":37.3,"v":0.12},{"d":37.6,"v":0.08},{"d":38.0,"v":0.1},{"d":38.3,"v":0.12},{"d":38.6,"v":0.08},{"d":39.0,"v":0.09},{"d":39.4,"v":0.1},{"d":39.6,"v":0.12},{"d":39.72,"v":0.23},{"d":39.85,"v":0.08},{"d":40.2,"v":0.06},{"d":40.6,"v":0.1},{"d":40.8,"v":0.16},{"d":41.5,"v":0.16},{"d":42.2,"v":0.16},{"d":42.68,"v":0.15},{"d":42.72,"v":0.07},{"d":43.2,"v":0.05},{"d":43.7,"v":0.06},{"d":44.2,"v":0.05},{"d":44.7,"v":0.06},{"d":45.2,"v":0.07},{"d":45.9,"v":0.08}
    ],
    "nv_psp_band": [
      {"d":18.7,"lo":0.7,"hi":1.0},{"d":18.9,"lo":0.72,"hi":1.12},{"d":19.1,"lo":0.78,"hi":1.05},{"d":19.3,"lo":0.8,"hi":1.25},{"d":19.5,"lo":0.82,"hi":1.15},{"d":19.7,"lo":0.85,"hi":1.32},{"d":19.9,"lo":0.9,"hi":1.22},{"d":20.1,"lo":0.92,"hi":1.38},{"d":20.3,"lo":0.9,"hi":1.28},{"d":20.5,"lo":0.95,"hi":1.42},{"d":20.7,"lo":0.95,"hi":1.3},{"d":20.9,"lo":1.0,"hi":1.45},{"d":21.1,"lo":0.95,"hi":1.35},{"d":21.3,"lo":1.0,"hi":1.5},{"d":21.5,"lo":0.95,"hi":1.38},{"d":21.7,"lo":1.0,"hi":1.55},{"d":21.9,"lo":0.95,"hi":1.4},{"d":22.0,"lo":1.0,"hi":1.62},{"d":22.2,"lo":0.95,"hi":1.42},{"d":22.4,"lo":1.0,"hi":1.52},{"d":22.55,"lo":1.0,"hi":1.75},{"d":22.7,"lo":0.9,"hi":1.4},{"d":22.9,"lo":0.85,"hi":1.48},{"d":23.1,"lo":0.8,"hi":1.3},{"d":23.3,"lo":0.75,"hi":1.38},{"d":23.5,"lo":0.7,"hi":1.25},{"d":23.7,"lo":0.65,"hi":1.3},{"d":23.9,"lo":0.6,"hi":1.15},{"d":24.1,"lo":0.55,"hi":1.12},{"d":24.3,"lo":0.5,"hi":1.0},{"d":24.5,"lo":0.48,"hi":1.05},{"d":24.7,"lo":0.4,"hi":0.9},{"d":24.9,"lo":0.38,"hi":0.92},{"d":25.1,"lo":0.33,"hi":0.8},{"d":25.3,"lo":0.3,"hi":0.78},{"d":25.5,"lo":0.26,"hi":0.65},{"d":25.7,"lo":0.24,"hi":0.58},{"d":25.9,"lo":0.2,"hi":0.5},{"d":26.1,"lo":0.2,"hi":0.44},{"d":26.3,"lo":0.21,"hi":0.42},{"d":26.5,"lo":0.22,"hi":0.46},{"d":26.7,"lo":0.24,"hi":0.5},{"d":26.9,"lo":0.26,"hi":0.52},{"d":27.1,"lo":0.28,"hi":0.56},{"d":27.3,"lo":0.35,"hi":0.62}
    ],
    "nv_fit": [
      {"d":0.06,"v":0.11},{"d":1.26,"v":0.16},{"d":2.9,"v":0.23},{"d":4.2,"v":0.22},{"d":5.35,"v":0.2},{"d":6.5,"v":0.23},{"d":7.95,"v":0.26},{"d":10.2,"v":0.3},{"d":11.7,"v":0.335},{"d":12.4,"v":0.42},{"d":13.15,"v":0.52},{"d":13.8,"v":0.6},{"d":14.3,"v":0.58},{"d":14.64,"v":0.54},{"d":15.4,"v":0.51},{"d":16.9,"v":0.63},{"d":18.4,"v":0.82},{"d":19.85,"v":1.02},{"d":21.35,"v":1.18},{"d":22.1,"v":1.21},{"d":23.1,"v":1.16},{"d":24.4,"v":0.93},{"d":25.9,"v":0.73},{"d":27.4,"v":0.55},{"d":28.86,"v":0.44},{"d":30.57,"v":0.38},{"d":31.4,"v":0.44},{"d":32.1,"v":0.45},{"d":33.3,"v":0.28},{"d":35.1,"v":0.2},{"d":37.8,"v":0.22},{"d":39.6,"v":0.22},{"d":40.5,"v":0.17},{"d":42.3,"v":0.1},{"d":43.8,"v":0.09},{"d":45.9,"v":0.16}
    ],
    "vphi_psp_early": [
      {"d":0.62,"v":-60},{"d":0.64,"v":-30},{"d":0.66,"v":8},{"d":0.9,"v":8},{"d":1.2,"v":8},{"d":1.27,"v":20},{"d":1.32,"v":-6},{"d":1.36,"v":15},{"d":1.6,"v":17},{"d":1.9,"v":19},{"d":2.1,"v":22},{"d":2.3,"v":15},{"d":2.5,"v":18},{"d":2.7,"v":12},{"d":2.95,"v":10},{"d":3.1,"v":0},{"d":3.25,"v":15},{"d":3.35,"v":-2},{"d":3.55,"v":-15},{"d":3.7,"v":-8},{"d":3.85,"v":18},{"d":4.0,"v":10},{"d":4.15,"v":-4},{"d":4.3,"v":5},{"d":4.45,"v":17},{"d":4.6,"v":8},{"d":4.75,"v":24},{"d":4.9,"v":10},{"d":5.0,"v":25},{"d":5.15,"v":-2},{"d":5.3,"v":-13},{"d":5.45,"v":22},{"d":5.6,"v":18},{"d":5.75,"v":0},{"d":5.9,"v":-13},{"d":6.05,"v":-5},{"d":6.2,"v":8},{"d":6.35,"v":-10},{"d":6.5,"v":6},{"d":6.65,"v":-12},{"d":6.8,"v":4},{"d":6.95,"v":-2},{"d":7.05,"v":27},{"d":7.25,"v":29},{"d":7.4,"v":15},{"d":7.6,"v":-15},{"d":7.75,"v":-8},{"d":7.9,"v":5},{"d":8.05,"v":-14},{"d":8.2,"v":-5},{"d":8.4,"v":8},{"d":8.55,"v":45},{"d":8.65,"v":46},{"d":8.8,"v":20},{"d":8.95,"v":4},{"d":9.1,"v":7},{"d":9.4,"v":8},{"d":9.7,"v":7},{"d":10.0,"v":8},{"d":10.2,"v":6},{"d":10.4,"v":-12},{"d":10.55,"v":5},{"d":10.75,"v":17},{"d":10.9,"v":-4},{"d":11.05,"v":-20},{"d":11.2,"v":0},{"d":11.35,"v":13},{"d":11.5,"v":-5},{"d":11.65,"v":-20},{"d":11.8,"v":-8},{"d":12.0,"v":-22},{"d":12.2,"v":-10},{"d":12.4,"v":12},{"d":12.6,"v":-2},{"d":12.75,"v":-18},{"d":12.9,"v":5},{"d":13.1,"v":-8},{"d":13.3,"v":10},{"d":13.45,"v":-5},{"d":13.6,"v":-15},{"d":13.75,"v":14},{"d":13.9,"v":-12},{"d":14.05,"v":18},{"d":14.2,"v":13},{"d":14.35,"v":20},{"d":14.5,"v":14},{"d":14.57,"v":-10},{"d":14.65,"v":-31},{"d":14.75,"v":-34},{"d":14.85,"v":-10},{"d":14.95,"v":27},{"d":15.1,"v":18},{"d":15.25,"v":25},{"d":15.4,"v":5},{"d":15.55,"v":-20},{"d":15.65,"v":15},{"d":15.8,"v":2},{"d":15.95,"v":-33},{"d":16.1,"v":10},{"d":16.2,"v":-20}
    ],
    "vphi_psp_cloud": [
      {"d":16.2,"v":-40},{"d":16.3,"v":35},{"d":16.42,"v":-55},{"d":16.5,"v":12},{"d":16.58,"v":-60},{"d":16.7,"v":30},{"d":16.78,"v":-18},{"d":16.9,"v":45},{"d":17.0,"v":-60},{"d":17.06,"v":5},{"d":17.2,"v":-45},{"d":17.3,"v":50},{"d":17.36,"v":-20},{"d":17.5,"v":28},{"d":17.6,"v":-55},{"d":17.72,"v":52},{"d":17.8,"v":-10},{"d":17.9,"v":45},{"d":18.02,"v":-60},{"d":18.1,"v":55},{"d":18.16,"v":-25},{"d":18.3,"v":38},{"d":18.4,"v":-60},{"d":18.46,"v":15},{"d":18.6,"v":-45},{"d":18.7,"v":50},{"d":18.8,"v":-58},{"d":18.86,"v":-5},{"d":19.0,"v":60},{"d":19.1,"v":-35},{"d":19.16,"v":25},{"d":19.3,"v":-60},{"d":19.4,"v":55},{"d":19.48,"v":-15},{"d":19.6,"v":48},{"d":19.7,"v":-52},{"d":19.76,"v":20},{"d":19.9,"v":60},{"d":20.0,"v":-40},{"d":20.08,"v":30},{"d":20.2,"v":-60},{"d":20.3,"v":58},{"d":20.36,"v":-10},{"d":20.5,"v":45},{"d":20.6,"v":-48},{"d":20.66,"v":10},{"d":20.8,"v":60},{"d":20.9,"v":-60},{"d":20.98,"v":22},{"d":21.1,"v":-38},{"d":21.2,"v":60},{"d":21.26,"v":-5},{"d":21.4,"v":-55},{"d":21.5,"v":50},{"d":21.58,"v":-20},{"d":21.7,"v":60},{"d":21.8,"v":-42},{"d":21.86,"v":30},{"d":22.0,"v":-58},{"d":22.1,"v":60},{"d":22.16,"v":5},{"d":22.3,"v":-35},{"d":22.4,"v":48},{"d":22.46,"v":-10},{"d":22.6,"v":60},{"d":22.7,"v":-60},{"d":22.78,"v":35},{"d":22.9,"v":-45},{"d":23.0,"v":55},{"d":23.06,"v":0},{"d":23.2,"v":60},{"d":23.3,"v":-60},{"d":23.38,"v":20},{"d":23.5,"v":-30},{"d":23.6,"v":52},{"d":23.66,"v":-5},{"d":23.8,"v":60},{"d":23.9,"v":-55},{"d":23.96,"v":25},{"d":24.1,"v":-40},{"d":24.2,"v":58},{"d":24.26,"v":10},{"d":24.4,"v":-60},{"d":24.5,"v":60},{"d":24.58,"v":-15},{"d":24.7,"v":50},{"d":24.8,"v":-35},{"d":24.86,"v":30},{"d":25.0,"v":-58},{"d":25.1,"v":55},{"d":25.16,"v":0},{"d":25.3,"v":-28},{"d":25.4,"v":60},{"d":25.48,"v":20},{"d":25.6,"v":-45},{"d":25.7,"v":50},{"d":25.76,"v":-10},{"d":25.9,"v":-55},{"d":26.0,"v":60},{"d":26.08,"v":15},{"d":26.2,"v":-32},{"d":26.3,"v":58},{"d":26.36,"v":-5},{"d":26.5,"v":-48},{"d":26.6,"v":52},{"d":26.68,"v":10},{"d":26.8,"v":-25},{"d":26.9,"v":45},{"d":27.0,"v":-15},{"d":27.1,"v":20},{"d":27.2,"v":-5}
    ],
    "vphi_psp_late": [
      {"d":27.2,"v":-5},{"d":27.35,"v":4},{"d":27.5,"v":-6},{"d":27.65,"v":3},{"d":27.8,"v":-10},{"d":27.95,"v":11},{"d":28.1,"v":-5},{"d":28.2,"v":39},{"d":28.3,"v":10},{"d":28.5,"v":15},{"d":28.7,"v":18},{"d":28.85,"v":10},{"d":29.0,"v":25},{"d":29.1,"v":5},{"d":29.3,"v":-8},{"d":29.45,"v":5},{"d":29.6,"v":-13},{"d":29.75,"v":0},{"d":29.9,"v":10},{"d":30.05,"v":32},{"d":30.2,"v":20},{"d":30.35,"v":13},{"d":30.5,"v":-20},{"d":30.57,"v":-40},{"d":30.65,"v":-60},{"d":30.75,"v":-20},{"d":30.85,"v":-55},{"d":30.95,"v":-10},{"d":31.05,"v":15},{"d":31.15,"v":-30},{"d":31.3,"v":24},{"d":31.45,"v":-5},{"d":31.55,"v":-35},{"d":31.7,"v":-10},{"d":31.85,"v":43},{"d":31.95,"v":-20},{"d":32.05,"v":-59},{"d":32.15,"v":-30},{"d":32.3,"v":-45},{"d":32.45,"v":-5},{"d":32.6,"v":-25},{"d":32.75,"v":10},{"d":32.9,"v":-15},{"d":33.05,"v":25},{"d":33.2,"v":53},{"d":33.3,"v":10},{"d":33.45,"v":-38},{"d":33.6,"v":-10},{"d":33.75,"v":20},{"d":33.9,"v":38},{"d":34.05,"v":-5},{"d":34.2,"v":-25},{"d":34.35,"v":15},{"d":34.5,"v":-10},{"d":34.65,"v":30},{"d":34.75,"v":60},{"d":34.85,"v":-48},{"d":34.95,"v":40},{"d":35.05,"v":-20},{"d":35.2,"v":10},{"d":35.35,"v":-15},{"d":35.5,"v":20},{"d":35.7,"v":36},{"d":35.85,"v":-5},{"d":36.0,"v":-20},{"d":36.15,"v":5},{"d":36.3,"v":-25},{"d":36.45,"v":-2},{"d":36.6,"v":-22},{"d":36.75,"v":10},{"d":36.9,"v":-10},{"d":37.05,"v":25},{"d":37.2,"v":34},{"d":37.35,"v":0},{"d":37.5,"v":-31},{"d":37.65,"v":-10},{"d":37.8,"v":20},{"d":37.95,"v":-5},{"d":38.1,"v":15},{"d":38.25,"v":-10},{"d":38.4,"v":10},{"d":38.55,"v":0},{"d":38.7,"v":18},{"d":38.85,"v":5},{"d":39.0,"v":30},{"d":39.15,"v":38},{"d":39.3,"v":25},{"d":39.45,"v":35},{"d":39.6,"v":30},{"d":39.75,"v":0},{"d":39.85,"v":-17},{"d":40.0,"v":-10},{"d":40.2,"v":-15},{"d":40.4,"v":-5},{"d":40.6,"v":-5},{"d":40.8,"v":20},{"d":41.0,"v":27},{"d":41.2,"v":22},{"d":41.4,"v":27},{"d":41.6,"v":18},{"d":41.8,"v":10},{"d":42.0,"v":4},{"d":42.2,"v":5},{"d":42.4,"v":20},{"d":42.6,"v":27},{"d":42.7,"v":-20},{"d":42.8,"v":-55},{"d":42.9,"v":-59},{"d":43.0,"v":-40},{"d":43.15,"v":-20},{"d":43.3,"v":-10},{"d":43.45,"v":-15},{"d":43.6,"v":-31},{"d":43.75,"v":-30},{"d":43.9,"v":-10},{"d":44.05,"v":-35},{"d":44.2,"v":0},{"d":44.35,"v":20},{"d":44.5,"v":5},{"d":44.65,"v":15},{"d":44.8,"v":25},{"d":44.95,"v":20},{"d":45.1,"v":15},{"d":45.25,"v":18},{"d":45.4,"v":10},{"d":45.55,"v":15},{"d":45.7,"v":8},{"d":45.85,"v":5}
    ],
    "vphi_psp_outer": [
      {"d":16.2,"lo":-30,"hi":28},{"d":16.4,"lo":-52,"hi":36},{"d":16.6,"lo":-60,"hi":32},{"d":16.8,"lo":-58,"hi":44},{"d":17.0,"lo":-60,"hi":40},{"d":17.2,"lo":-55,"hi":50},{"d":17.4,"lo":-60,"hi":46},{"d":17.6,"lo":-60,"hi":55},{"d":17.8,"lo":-57,"hi":50},{"d":18.0,"lo":-60,"hi":58},{"d":18.2,"lo":-60,"hi":54},{"d":18.4,"lo":-58,"hi":60},{"d":18.7,"lo":-60,"hi":60},{"d":19.0,"lo":-60,"hi":60},{"d":19.3,"lo":-56,"hi":60},{"d":19.6,"lo":-60,"hi":60},{"d":19.9,"lo":-60,"hi":60},{"d":20.2,"lo":-58,"hi":60},{"d":20.5,"lo":-60,"hi":60},{"d":20.8,"lo":-60,"hi":60},{"d":21.1,"lo":-55,"hi":60},{"d":21.4,"lo":-60,"hi":60},{"d":21.7,"lo":-60,"hi":60},{"d":22.0,"lo":-57,"hi":60},{"d":22.3,"lo":-60,"hi":60},{"d":22.6,"lo":-52,"hi":60},{"d":22.9,"lo":-60,"hi":60},{"d":23.2,"lo":-55,"hi":60},{"d":23.5,"lo":-60,"hi":60},{"d":23.8,"lo":-50,"hi":60},{"d":24.1,"lo":-60,"hi":60},{"d":24.4,"lo":-54,"hi":60},{"d":24.7,"lo":-60,"hi":60},{"d":25.0,"lo":-48,"hi":60},{"d":25.3,"lo":-56,"hi":60},{"d":25.6,"lo":-45,"hi":60},{"d":25.9,"lo":-52,"hi":58},{"d":26.2,"lo":-40,"hi":60},{"d":26.5,"lo":-45,"hi":52},{"d":26.8,"lo":-30,"hi":45},{"d":27.0,"lo":-25,"hi":35},{"d":27.2,"lo":-10,"hi":15}
    ],
    "vphi_psp_core": [
      {"d":16.3,"lo":-25,"hi":18},{"d":16.6,"lo":-38,"hi":25},{"d":16.9,"lo":-42,"hi":30},{"d":17.2,"lo":-40,"hi":35},{"d":17.5,"lo":-45,"hi":38},{"d":17.8,"lo":-42,"hi":42},{"d":18.1,"lo":-46,"hi":45},{"d":18.4,"lo":-40,"hi":48},{"d":18.7,"lo":-44,"hi":52},{"d":19.0,"lo":-38,"hi":55},{"d":19.3,"lo":-42,"hi":55},{"d":19.6,"lo":-35,"hi":58},{"d":19.9,"lo":-38,"hi":60},{"d":20.2,"lo":-32,"hi":60},{"d":20.5,"lo":-36,"hi":60},{"d":20.8,"lo":-30,"hi":60},{"d":21.1,"lo":-33,"hi":60},{"d":21.4,"lo":-28,"hi":60},{"d":21.7,"lo":-30,"hi":60},{"d":22.0,"lo":-25,"hi":60},{"d":22.3,"lo":-28,"hi":60},{"d":22.6,"lo":-22,"hi":60},{"d":22.9,"lo":-25,"hi":60},{"d":23.2,"lo":-20,"hi":60},{"d":23.5,"lo":-24,"hi":60},{"d":23.8,"lo":-18,"hi":60},{"d":24.1,"lo":-22,"hi":58},{"d":24.4,"lo":-16,"hi":60},{"d":24.7,"lo":-20,"hi":56},{"d":25.0,"lo":-15,"hi":58},{"d":25.3,"lo":-18,"hi":52},{"d":25.6,"lo":-12,"hi":55},{"d":25.9,"lo":-15,"hi":48},{"d":26.2,"lo":-10,"hi":45},{"d":26.5,"lo":-12,"hi":38},{"d":26.8,"lo":-8,"hi":30},{"d":27.1,"lo":-5,"hi":18}
    ],
    "vphi_fit": [
      {"d":0.06,"v":2.6},{"d":1.26,"v":4},{"d":2.9,"v":1.8},{"d":4.2,"v":-1.8},{"d":5.35,"v":-0.9},{"d":6.5,"v":1.8},{"d":7.95,"v":-1.8},{"d":10.2,"v":0.9},{"d":12.4,"v":0},{"d":13.6,"v":2.6},{"d":14.64,"v":-3.5},{"d":15.4,"v":-2.6},{"d":17.6,"v":1.8},{"d":20.6,"v":1.8},{"d":23.1,"v":0.5},{"d":25.9,"v":-0.9},{"d":28.86,"v":2.6},{"d":30.57,"v":3.5},{"d":31.85,"v":4.4},{"d":32.5,"v":1},{"d":33.6,"v":-3.5},{"d":34.8,"v":-2.6},{"d":37.1,"v":1.8},{"d":39.3,"v":4.4},{"d":39.75,"v":3.5},{"d":40.8,"v":-1.8},{"d":41.5,"v":-1.8},{"d":43.8,"v":1.8},{"d":45.9,"v":3.5}
    ]
  },
  "vconcat": [
    {
      "width": 2418, "height": 286,
      "layer": [
        {"data": {"name": "br_psp"}, "mark": {"type": "area", "fill": "#1f77b4", "stroke": "#1f77b4", "strokeWidth": 4, "clip": true},
         "encoding": {
           "x": {"field": "d", "type": "quantitative", "scale": {"domain": [0.057, 45.89], "nice": false, "zero": false}, "axis": {"values": [7, 17, 24, 31, 38], "labels": false, "title": null}},
           "y": {"field": "lo", "type": "quantitative", "title": "𝘉ᵣ nT", "scale": {"domain": [-100, 100], "nice": false, "zero": false}, "axis": {"values": [-100, 0, 100]}},
           "y2": {"field": "hi"}}},
        {"data": {"name": "red_times"}, "mark": {"type": "rule", "stroke": "#ff0000", "strokeWidth": 5}, "encoding": {"x": {"field": "d", "type": "quantitative"}}},
        {"data": {"name": "blue_times"}, "mark": {"type": "rule", "stroke": "#0000ff", "strokeWidth": 5}, "encoding": {"x": {"field": "d", "type": "quantitative"}}},
        {"data": {"name": "blue_dashed_times"}, "mark": {"type": "rule", "stroke": "#0000ff", "strokeWidth": 5, "strokeDash": [19, 8]}, "encoding": {"x": {"field": "d", "type": "quantitative"}}},
        {"data": {"name": "br_fit"}, "mark": {"type": "line", "stroke": "#ff0000", "strokeWidth": 10.5, "interpolate": "monotone", "clip": true},
         "encoding": {"x": {"field": "d", "type": "quantitative"}, "y": {"field": "v", "type": "quantitative", "title": "𝘉ᵣ nT"}}}
      ]
    },
    {
      "width": 2418, "height": 286,
      "layer": [
        {"data": {"name": "bmag_psp"}, "mark": {"type": "area", "fill": "#1f77b4", "strokeWidth": 5, "clip": true},
         "encoding": {
           "x": {"field": "d", "type": "quantitative", "scale": {"domain": [0.057, 45.89], "nice": false, "zero": false}, "axis": {"values": [7, 17, 24, 31, 38], "labels": false, "title": null}},
           "y": {"field": "lo", "type": "quantitative", "title": "||𝘉|| nT", "scale": {"domain": [0, 150], "nice": false}, "axis": {"values": [0, 50, 100, 150]}},
           "y2": {"field": "hi"},
           "stroke": {"datum": "PSP", "type": "nominal", "scale": {"domain": ["PSP", "|𝘉|"], "range": ["#1f77b4", "#ff0000"]},
             "legend": {"title": null, "orient": "top-right", "offset": 18, "symbolType": "M-1,0H3", "symbolSize": 1560, "symbolStrokeWidth": 7, "labelOffset": 64, "padding": 15, "rowPadding": 16, "strokeColor": "#d0d0d0", "cornerRadius": 8, "fillColor": "#ffffff"}}}},
        {"data": {"name": "red_times"}, "mark": {"type": "rule", "stroke": "#ff0000", "strokeWidth": 5}, "encoding": {"x": {"field": "d", "type": "quantitative"}}},
        {"data": {"name": "blue_times"}, "mark": {"type": "rule", "stroke": "#0000ff", "strokeWidth": 5}, "encoding": {"x": {"field": "d", "type": "quantitative"}}},
        {"data": {"name": "blue_dashed_times"}, "mark": {"type": "rule", "stroke": "#0000ff", "strokeWidth": 5, "strokeDash": [19, 8]}, "encoding": {"x": {"field": "d", "type": "quantitative"}}},
        {"data": {"name": "bmag_fit"}, "mark": {"type": "line", "strokeWidth": 10.5, "interpolate": "monotone", "clip": true},
         "encoding": {"x": {"field": "d", "type": "quantitative"}, "y": {"field": "v", "type": "quantitative", "title": "||𝘉|| nT"},
           "stroke": {"datum": "|𝘉|", "type": "nominal"}}}
      ]
    },
    {
      "width": 2418, "height": 286,
      "layer": [
        {"data": {"name": "vr_psp_band"}, "mark": {"type": "area", "fill": "#1f77b4", "stroke": "#1f77b4", "strokeWidth": 3, "clip": true},
         "encoding": {
           "x": {"field": "d", "type": "quantitative", "scale": {"domain": [0.057, 45.89], "nice": false, "zero": false}, "axis": {"values": [7, 17, 24, 31, 38], "labels": false, "title": null}},
           "y": {"field": "lo", "type": "quantitative", "title": "𝘷ᵣ km/s", "scale": {"domain": [100, 700], "nice": false, "zero": false}, "axis": {"values": [200, 400, 600]}},
           "y2": {"field": "hi"}}},
        {"data": {"name": "vr_psp"}, "mark": {"type": "line", "stroke": "#1f77b4", "strokeWidth": 8, "clip": true},
         "encoding": {"x": {"field": "d", "type": "quantitative"}, "y": {"field": "v", "type": "quantitative", "title": "𝘷ᵣ km/s"}}},
        {"data": {"name": "red_times"}, "mark": {"type": "rule", "stroke": "#ff0000", "strokeWidth": 5}, "encoding": {"x": {"field": "d", "type": "quantitative"}}},
        {"data": {"name": "blue_times"}, "mark": {"type": "rule", "stroke": "#0000ff", "strokeWidth": 5}, "encoding": {"x": {"field": "d", "type": "quantitative"}}},
        {"data": {"name": "blue_dashed_times"}, "mark": {"type": "rule", "stroke": "#0000ff", "strokeWidth": 5, "strokeDash": [19, 8]}, "encoding": {"x": {"field": "d", "type": "quantitative"}}},
        {"data": {"name": "vr_fit"}, "mark": {"type": "line", "stroke": "#ff0000", "strokeWidth": 10.5, "interpolate": "monotone", "clip": true},
         "encoding": {"x": {"field": "d", "type": "quantitative"}, "y": {"field": "v", "type": "quantitative", "title": "𝘷ᵣ km/s"}}}
      ]
    },
    {
      "width": 2418, "height": 286,
      "layer": [
        {"data": {"name": "n_psp_band"}, "mark": {"type": "area", "fill": "#1f77b4", "stroke": "#1f77b4", "strokeWidth": 3, "clip": true},
         "encoding": {
           "x": {"field": "d", "type": "quantitative", "scale": {"domain": [0.057, 45.89], "nice": false, "zero": false}, "axis": {"values": [7, 17, 24, 31, 38], "labels": false, "title": null}},
           "y": {"field": "lo", "type": "quantitative", "title": "𝘯 cm⁻³", "scale": {"domain": [0, 500], "nice": false}, "axis": {"values": [0, 200, 400]}},
           "y2": {"field": "hi"}}},
        {"data": {"name": "n_psp"}, "mark": {"type": "line", "stroke": "#1f77b4", "strokeWidth": 8, "clip": true},
         "encoding": {"x": {"field": "d", "type": "quantitative"}, "y": {"field": "v", "type": "quantitative", "title": "𝘯 cm⁻³"}}},
        {"data": {"name": "red_times"}, "mark": {"type": "rule", "stroke": "#ff0000", "strokeWidth": 5}, "encoding": {"x": {"field": "d", "type": "quantitative"}}},
        {"data": {"name": "blue_times"}, "mark": {"type": "rule", "stroke": "#0000ff", "strokeWidth": 5}, "encoding": {"x": {"field": "d", "type": "quantitative"}}},
        {"data": {"name": "blue_dashed_times"}, "mark": {"type": "rule", "stroke": "#0000ff", "strokeWidth": 5, "strokeDash": [19, 8]}, "encoding": {"x": {"field": "d", "type": "quantitative"}}},
        {"data": {"name": "n_fit"}, "mark": {"type": "line", "stroke": "#ff0000", "strokeWidth": 10.5, "interpolate": "monotone", "clip": true},
         "encoding": {"x": {"field": "d", "type": "quantitative"}, "y": {"field": "v", "type": "quantitative", "title": "𝘯 cm⁻³"}}}
      ]
    },
    {
      "width": 2418, "height": 286,
      "title": {"text": "1e10", "anchor": "start", "frame": "group", "offset": -12},
      "layer": [
        {"data": {"name": "nv_psp_band"}, "mark": {"type": "area", "fill": "#1f77b4", "stroke": "#1f77b4", "strokeWidth": 3, "clip": true},
         "encoding": {
           "x": {"field": "d", "type": "quantitative", "scale": {"domain": [0.057, 45.89], "nice": false, "zero": false}, "axis": {"values": [7, 17, 24, 31, 38], "labels": false, "title": null}},
           "y": {"field": "lo", "type": "quantitative", "title": "𝘯𝘷 cm⁻² s⁻¹", "scale": {"domain": [0, 2], "nice": false}, "axis": {"values": [0, 1, 2], "format": "d"}},
           "y2": {"field": "hi"}}},
        {"data": {"name": "nv_psp"}, "mark": {"type": "line", "stroke": "#1f77b4", "strokeWidth": 8, "clip": true},
         "encoding": {"x": {"field": "d", "type": "quantitative"}, "y": {"field": "v", "type": "quantitative", "title": "𝘯𝘷 cm⁻² s⁻¹"}}},
        {"data": {"name": "red_times"}, "mark": {"type": "rule", "stroke": "#ff0000", "strokeWidth": 5}, "encoding": {"x": {"field": "d", "type": "quantitative"}}},
        {"data": {"name": "blue_times"}, "mark": {"type": "rule", "stroke": "#0000ff", "strokeWidth": 5}, "encoding": {"x": {"field": "d", "type": "quantitative"}}},
        {"data": {"name": "blue_dashed_times"}, "mark": {"type": "rule", "stroke": "#0000ff", "strokeWidth": 5, "strokeDash": [19, 8]}, "encoding": {"x": {"field": "d", "type": "quantitative"}}},
        {"data": {"name": "nv_fit"}, "mark": {"type": "line", "stroke": "#ff0000", "strokeWidth": 10.5, "interpolate": "monotone", "clip": true},
         "encoding": {"x": {"field": "d", "type": "quantitative"}, "y": {"field": "v", "type": "quantitative", "title": "𝘯𝘷 cm⁻² s⁻¹"}}}
      ]
    },
    {
      "width": 2418, "height": 286,
      "layer": [
        {"data": {"name": "vphi_psp_outer"}, "mark": {"type": "area", "fill": "#1f77b4", "opacity": 0.28, "clip": true},
         "encoding": {
           "x": {"field": "d", "type": "quantitative", "scale": {"domain": [0.057, 45.89], "nice": false, "zero": false},
             "axis": {"values": [7, 17, 24, 31, 38], "title": null, "labelExpr": "datum.value == 7 ? '2018-10-22' : datum.value == 17 ? '2018-11-01' : datum.value == 24 ? '2018-11-08' : datum.value == 31 ? '2018-11-15' : '2018-11-22'"}},
           "y": {"field": "lo", "type": "quantitative", "title": "𝘷ᵩ km/s", "scale": {"domain": [-60, 60], "nice": false, "zero": false}, "axis": {"values": [-50, 0, 50]}},
           "y2": {"field": "hi"}}},
        {"data": {"name": "vphi_psp_core"}, "mark": {"type": "area", "fill": "#1f77b4", "opacity": 0.3, "clip": true},
         "encoding": {"x": {"field": "d", "type": "quantitative"}, "y": {"field": "lo", "type": "quantitative", "title": "𝘷ᵩ km/s"}, "y2": {"field": "hi"}}},
        {"data": {"name": "vphi_psp_cloud"}, "mark": {"type": "line", "stroke": "#1f77b4", "strokeWidth": 2, "opacity": 0.5, "clip": true},
         "encoding": {"x": {"field": "d", "type": "quantitative"}, "y": {"field": "v", "type": "quantitative", "title": "𝘷ᵩ km/s"}}},
        {"data": {"name": "vphi_psp_early"}, "mark": {"type": "line", "stroke": "#1f77b4", "strokeWidth": 8, "clip": true},
         "encoding": {"x": {"field": "d", "type": "quantitative"}, "y": {"field": "v", "type": "quantitative", "title": "𝘷ᵩ km/s"}}},
        {"data": {"name": "vphi_psp_late"}, "mark": {"type": "line", "stroke": "#1f77b4", "strokeWidth": 8, "clip": true},
         "encoding": {"x": {"field": "d", "type": "quantitative"}, "y": {"field": "v", "type": "quantitative", "title": "𝘷ᵩ km/s"}}},
        {"data": {"name": "red_times"}, "mark": {"type": "rule", "stroke": "#ff0000", "strokeWidth": 5}, "encoding": {"x": {"field": "d", "type": "quantitative"}}},
        {"data": {"name": "blue_times"}, "mark": {"type": "rule", "stroke": "#0000ff", "strokeWidth": 5}, "encoding": {"x": {"field": "d", "type": "quantitative"}}},
        {"data": {"name": "blue_dashed_times"}, "mark": {"type": "rule", "stroke": "#0000ff", "strokeWidth": 5, "strokeDash": [19, 8]}, "encoding": {"x": {"field": "d", "type": "quantitative"}}},
        {"data": {"name": "vphi_fit"}, "mark": {"type": "line", "stroke": "#ff0000", "strokeWidth": 10.5, "interpolate": "monotone", "clip": true},
         "encoding": {"x": {"field": "d", "type": "quantitative"}, "y": {"field": "v", "type": "quantitative", "title": "𝘷ᵩ km/s"}}}
      ]
    }
  ]
}
